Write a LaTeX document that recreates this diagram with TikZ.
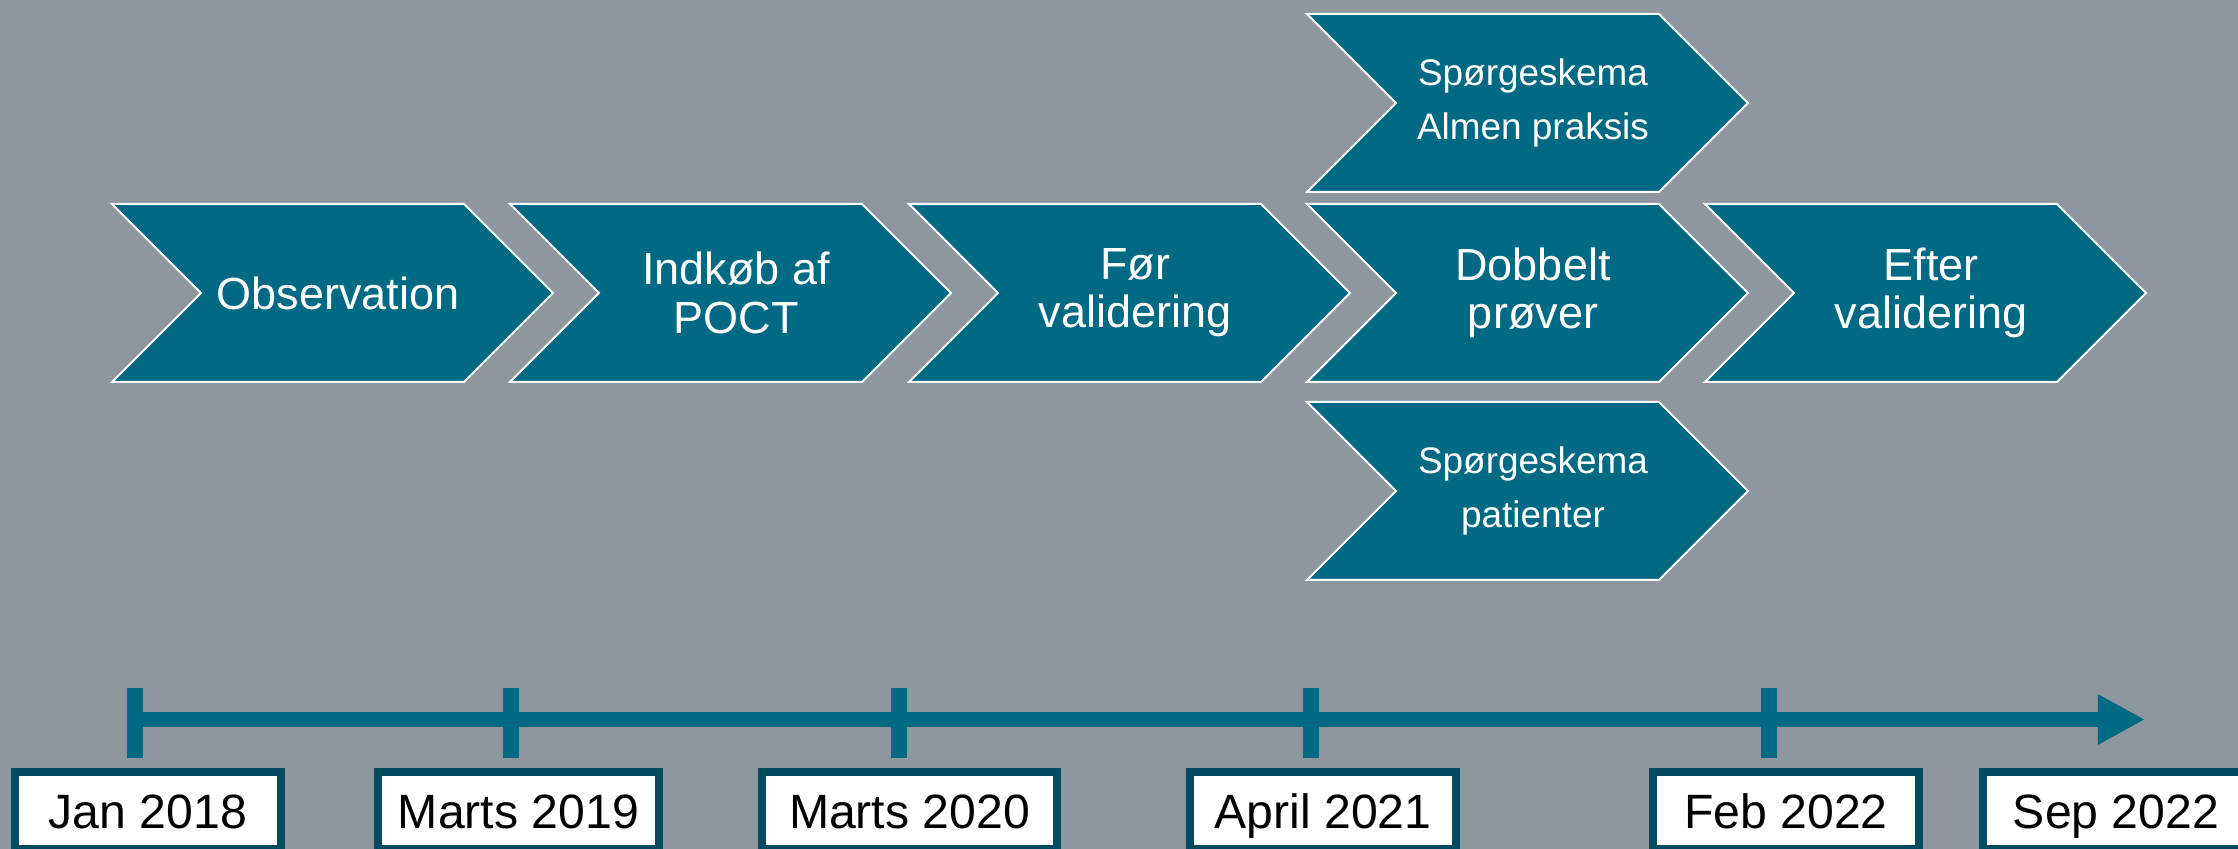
\documentclass[tikz,border=0pt]{standalone}
\usepackage{fontspec}
\setmainfont{Liberation Sans}
\usetikzlibrary{arrows.meta}
\definecolor{bggray}{HTML}{8E97A0}
\definecolor{chevteal}{HTML}{006984}
\definecolor{boxteal}{HTML}{004B5F}
\begin{document}
\begin{tikzpicture}[x=0.01cm, y=-0.01cm,
    chev/.style={fill=chevteal, draw=white, line width=0.02cm, line join=miter},
    big/.style={text=white, align=center, font=\fontsize{12.8}{13.7}\selectfont},
    small/.style={text=white, align=center, font=\fontsize{10.5}{15.6}\selectfont},
    datebox/.style={draw=boxteal, line width=0.08cm, fill=white, inner sep=0pt, minimum height=0.77cm, text height=0.35cm, text depth=0pt, font=\fontsize{13.7}{15}\selectfont},
    axis/.style={draw=chevteal, line width=0.155cm, -{Triangle[length=0.47cm, width=0.47cm]}},
    tick/.style={draw=chevteal, line width=0.16cm}]
      \useasboundingbox (0,0) rectangle (2238,849);
      \clip (0,0) rectangle (2238,849);
      \fill[bggray] (0,0) rectangle (2238,849);

      % chevrons
      \draw[chev] (112,204) -- (464,204) -- (553,293) -- (464,382) -- (112,382) -- (201,293) -- cycle;
      \draw[chev] (510,204) -- (862,204) -- (951,293) -- (862,382) -- (510,382) -- (599,293) -- cycle;
      \draw[chev] (909,204) -- (1261,204) -- (1350,293) -- (1261,382) -- (909,382) -- (998,293) -- cycle;
      \draw[chev] (1307,204) -- (1659,204) -- (1748,293) -- (1659,382) -- (1307,382) -- (1396,293) -- cycle;
      \draw[chev] (1705,204) -- (2057,204) -- (2146,293) -- (2057,382) -- (1705,382) -- (1794,293) -- cycle;
      \draw[chev] (1307,14) -- (1659,14) -- (1748,103) -- (1659,192) -- (1307,192) -- (1396,103) -- cycle;
      \draw[chev] (1307,402) -- (1659,402) -- (1748,491) -- (1659,580) -- (1307,580) -- (1396,491) -- cycle;

      \node[big] (1) at (338,293) {Observation};
      \node[big] (2) at (736,293) {Indkøb af\\POCT};
      \node[big] (3) at (1135,293) {Før\\validering};
      \node[big] (4) at (1533,293) {Dobbelt\\prøver};
      \node[big] (5) at (1931,293) {Efter\\validering};
      \node[small] (4a) at (1533,103) {Spørgeskema\\Almen praksis};
      \node[small] (4b) at (1533,491) {Spørgeskema\\patienter};

      % timeline
      \coordinate (t1) at (135,719.5);
      \coordinate (t2) at (511,719.5);
      \coordinate (t3) at (899,719.5);
      \coordinate (t4) at (1311,719.5);
      \coordinate (t5) at (1769,719.5);
      \coordinate (tend) at (2145,719.5);
      \draw[axis] (t1) -- (tend);
      \foreach \i in {1,...,5}
        \draw[tick] (t\i) ++(0,-31.5) -- ++(0,70);

      \node[datebox, minimum width=2.66cm] (d1) at (148,810.5) {Jan 2018};
      \node[datebox, minimum width=2.81cm] (d2) at (518.5,810.5) {Marts 2019};
      \node[datebox, minimum width=2.95cm] (d3) at (909.5,810.5) {Marts 2020};
      \node[datebox, minimum width=2.66cm] (d4) at (1323,810.5) {April 2021};
      \node[datebox, minimum width=2.66cm] (d5) at (1786,810.5) {Feb 2022};
      \node[datebox, minimum width=2.66cm] (d6) at (2116,810.5) {Sep 2022};
    \end{tikzpicture}
\end{document}
